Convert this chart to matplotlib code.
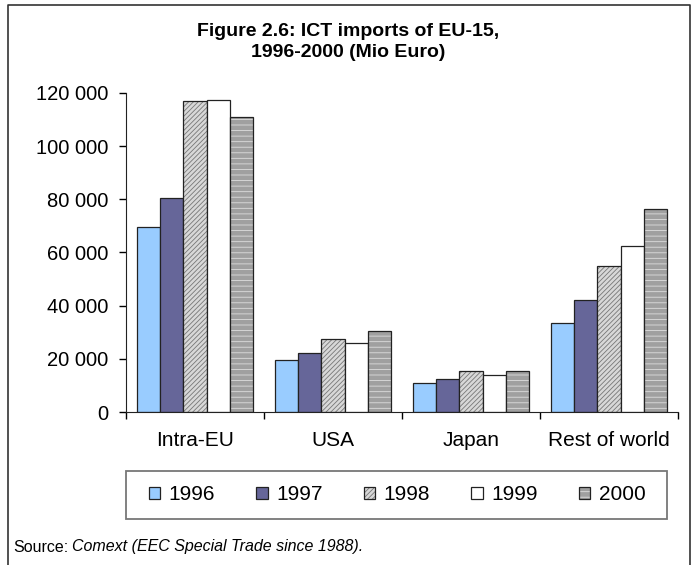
import matplotlib.pyplot as plt
from matplotlib.lines import Line2D
from matplotlib.patches import Rectangle
import matplotlib.colors as mcolors
import numpy as np

plt.rcParams['font.family'] = ['Liberation Sans', 'DejaVu Sans']
plt.rcParams['hatch.linewidth'] = 0.6

# ICT imports of EU-15 (Mio Euro)
regions = ['Intra-EU', 'USA', 'Japan', 'Rest of world']
years = ['1996', '1997', '1998', '1999', '2000']
v1996 = [69700, 19400, 10900, 33400]
v1997 = [80400, 22300, 12600, 42300]
v1998 = [117100, 27500, 15500, 55100]
v1999 = [117500, 26100, 14000, 62600]
v2000 = [110800, 30600, 15500, 76400]
series = [v1996, v1997, v1998, v1999, v2000]

faces = ['#99ccff', '#666699', '#d8d8d8', 'white', '#a0a0a0']
hatches = [None, None, '///////', None, '---']
hatch_cols = [None, None, '#777777', None, '#dedede']

W, H = 694, 565
fig = plt.figure(figsize=(W / 100, H / 100), dpi=100)

# outer frame (open at the bottom)
fig.add_artist(Line2D([8 / W, 8 / W, 690 / W, 690 / W],
                      [0, 1 - 5 / H, 1 - 5 / H, 0],
                      color='#333333', lw=1.2))

ax = fig.add_axes([126 / W, 153 / H, 552 / W, 319 / H])

x = np.arange(len(regions)) + 0.5
bw = 0.169
for i, vals in enumerate(series):
    pos = x - 2 * bw + i * bw
    bars = ax.bar(pos, vals, bw, color=faces[i], edgecolor='#222222',
                  linewidth=0.9, label=years[i])
    if hatches[i]:
        for b in bars:
            b.set_hatch(hatches[i])
            b._hatch_color = mcolors.to_rgba(hatch_cols[i])

ax.set_xlim(0, 4)
ax.set_ylim(0, 120000)
ticks = list(range(0, 120001, 20000))
ax.set_yticks(ticks)
ax.set_yticklabels(['0' if t == 0 else f'{t // 1000} 000' for t in ticks])
ax.set_xticks(np.arange(0, 5))
ax.set_xticklabels([])
ax.set_xticks(x, minor=True)
ax.set_xticklabels(regions, minor=True)
ax.tick_params(axis='x', which='minor', length=0, pad=14, labelsize=15)
ax.tick_params(axis='x', which='major', length=5, width=1, direction='out')
ax.tick_params(axis='y', length=5, width=1, direction='out', labelsize=14.5, pad=8)
for s in ['top', 'right']:
    ax.spines[s].set_visible(False)
ax.spines['left'].set_color('#222222')
ax.spines['bottom'].set_color('#222222')

fig.text(348 / W, 1 - 42 / H, 'Figure 2.6: ICT imports of EU-15,\n1996-2000 (Mio Euro)',
         ha='center', va='center', fontsize=14, fontweight='bold',
         linespacing=1.35)

# legend box
fig.add_artist(Rectangle((126 / W, 46 / H), 541 / W, 48 / H, transform=fig.transFigure,
                         facecolor='none', edgecolor='#777777', lw=1.3))
leg = fig.legend(loc='center', bbox_to_anchor=(397 / W, 70 / H),
                 ncol=5, frameon=False, fontsize=15, handlelength=0.55,
                 handleheight=0.55, handletextpad=0.4, columnspacing=1.98,
                 borderaxespad=0)

fig.text(13 / W, 18 / H, 'Source:', fontsize=11.5, va='center', ha='left')
fig.text(72 / W, 18 / H, 'Comext (EEC Special Trade since 1988).', fontsize=11.5,
         va='center', ha='left', style='italic')

fig.savefig('out.png', dpi=100)
